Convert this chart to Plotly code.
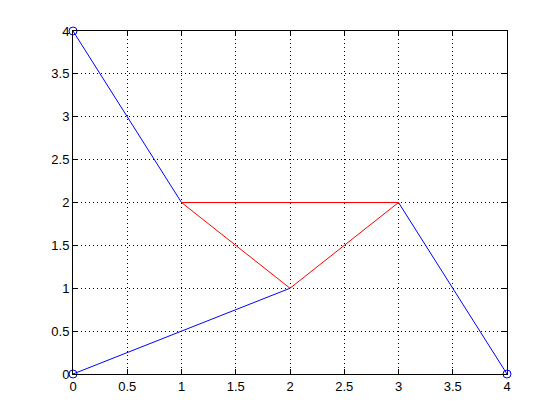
import plotly.graph_objects as go

# Data
blue_seg1_x = [0, 1]
blue_seg1_y = [4, 2]
blue_seg2_x = [0, 2]
blue_seg2_y = [0, 1]
blue_seg3_x = [3, 4]
blue_seg3_y = [2, 0]
red_x = [1, 2, 3, 1]
red_y = [2, 1, 2, 2]
marker_x = [0, 0, 4]
marker_y = [4, 0, 0]
x_ticks = [0, 0.5, 1, 1.5, 2, 2.5, 3, 3.5, 4]
y_ticks = [0, 0.5, 1, 1.5, 2, 2.5, 3, 3.5, 4]

fig = go.Figure()
for xs, ys in [(blue_seg1_x, blue_seg1_y), (blue_seg2_x, blue_seg2_y), (blue_seg3_x, blue_seg3_y)]:
    fig.add_trace(go.Scatter(x=xs, y=ys, mode="lines", line=dict(color="#0000ff", width=1), cliponaxis=False))
fig.add_trace(go.Scatter(x=red_x, y=red_y, mode="lines", line=dict(color="#ff0000", width=1), cliponaxis=False))
fig.add_trace(go.Scatter(x=marker_x, y=marker_y, mode="markers",
                         marker=dict(symbol="circle-open", size=8, color="#0000ff", line=dict(width=1)),
                         cliponaxis=False))

axis_common = dict(
    showline=True, linecolor="black", linewidth=1, mirror="ticks",
    ticks="inside", ticklen=5, tickcolor="black", tickwidth=1,
    showgrid=True, gridcolor="black", griddash="1px,3px", gridwidth=1,
    zeroline=False, tickfont=dict(family="Liberation Sans, Arial", size=13, color="black"),
)
fig.update_xaxes(range=[0, 4], tickvals=x_ticks, ticktext=[f"{v:g}" for v in x_ticks], **axis_common)
fig.update_yaxes(range=[0, 4], tickvals=y_ticks, ticktext=[f"{v:g}" for v in y_ticks], **axis_common)

fig.update_layout(
    width=552, height=412,
    margin=dict(l=65, r=53, t=23, b=46, pad=0),
    paper_bgcolor="white", plot_bgcolor="white",
    showlegend=False,
)
fig.write_html("out.html")
